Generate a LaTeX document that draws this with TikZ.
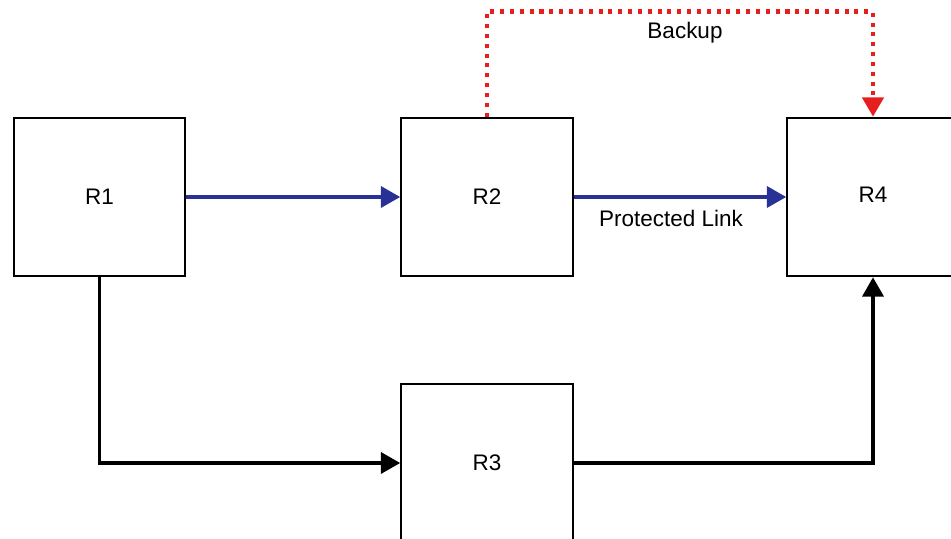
\documentclass[tikz,border=0pt]{standalone}
\usepackage{fontspec}
\setmainfont{Liberation Sans}
\usetikzlibrary{arrows.meta}
\definecolor{linkblue}{RGB}{40,50,150}
\definecolor{backred}{RGB}{230,30,30}

\begin{document}
\begin{tikzpicture}[
    router/.style = {draw, line width=1.2pt, minimum width=3.43cm, minimum height=3.17cm,
                     font=\fontsize{12.8}{15}\selectfont},
    prim/.style = {linkblue, line width=1.9pt, -{Triangle[length=11pt, width=12pt]}},
    alt/.style = {black, line width=1.9pt, -{Triangle[length=11pt, width=12pt]}},
    backup/.style = {backred, line width=2.5pt, dash pattern=on 2.3pt off 3.3pt,
                     -{Triangle[length=11pt, width=12pt]}},
    lbl/.style = {font=\fontsize{12.8}{15}\selectfont}]
     \useasboundingbox (0,0) rectangle (19.02,-10.78);
     \node[router] (r1) at (1.99,-3.94) {R1};
     \node[router] (r2) at (9.74,-3.94) {R2};
     \node[router] (r3) at (9.74,-9.26) {R3};
     \node[router] (r4) at (17.46,-3.94) {\raisebox{3pt}{R4}};

     \draw[prim] (r1) -- (r2);
     \draw[prim] (r2) -- (r4);
     \node[lbl] (plink) at (13.42,-4.37) {Protected Link};

     \draw[alt] (r1.south) |- (r3.west);
     \draw[alt] (r3.east) -| (r4.south);

     \draw[backup] (r2.north) -- ++(0,2.1) -| (r4.north);
     \node[lbl] (bk) at (13.7,-0.66) {Backup};
\end{tikzpicture}
\end{document}
